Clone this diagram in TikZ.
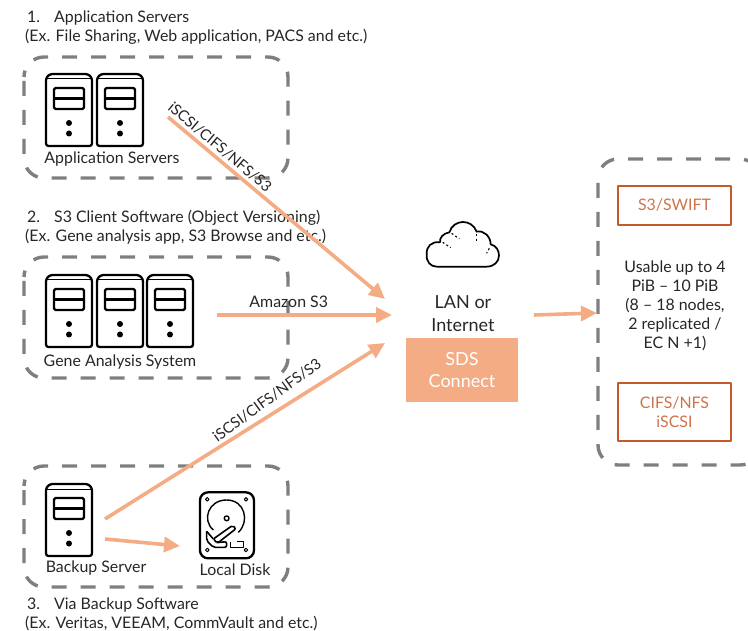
\documentclass[tikz,border=0pt]{standalone}
\usepackage{fontspec}
\setmainfont{Lato}
\usetikzlibrary{arrows.meta,positioning}
\definecolor{peach}{HTML}{F4AC85}
\definecolor{rust}{HTML}{C55A2B}
\definecolor{dashgrey}{HTML}{7F7F7F}
\definecolor{inktext}{HTML}{262626}
\def\txt{\fontsize{15.9}{18.9}\selectfont}
\tikzset{groupbox/.style={draw=dashgrey,line width=3.4pt,rounded corners=20pt,dash pattern=on 15pt off 14pt,dash phase=-4pt}}
\tikzset{flow/.style={draw=peach,line width=3.6pt,-{Triangle[length=16pt,width=15pt]}}}
\tikzset{label/.style={text=inktext,font=\txt,inner sep=0pt}}
\tikzset{heading/.style={label,align=left,anchor=west}}
\tikzset{protobox/.style={draw=rust,line width=1.6pt,text=rust!85!white,font=\txt,align=center,minimum width=113pt,inner sep=0pt}}
\tikzset{serverbox/.pic={
  \draw[line width=2.3pt,rounded corners=2.5pt] (0,72) -- (0,4) -- (4,0) -- (42,0) -- (46,4) -- (46,72) -- cycle;
  \draw[line width=1pt] (0,5) -- (46,5);
  \draw[line width=2.3pt,rounded corners=1.5pt] (8,14) rectangle (38,35);
  \draw[line width=2.3pt] (8,24.5) -- (38,24.5);
  \fill (23,49) circle (3pt) (23,59.5) circle (3pt);
}}
\begin{document}
\begin{tikzpicture}[x=1pt,y=-1pt,line join=round]
  \clip (0,0) rectangle (748,631);
  % dashed groups
  \draw[groupbox] (24,57) rectangle (288,178);
  \draw[groupbox] (24,257) rectangle (288,378);
  \draw[groupbox] (24,466) rectangle (288,587);
  \draw[groupbox] (598,159) rectangle (760,465);
  % headings
  \node[heading] (appTitle) at (25,27.5) {\hspace*{2pt}1.\hspace{14pt}Application Servers\\(Ex. File Sharing, Web application, PACS and etc.)};
  \node[heading] (geneTitle) at (25,227) {\hspace*{2pt}2.\hspace{14pt}S3 Client Software (Object Versioning)\\(Ex. Gene analysis app, S3 Browse and etc.)};
  \node[heading] (backTitle) at (25,614) {\hspace*{2pt}3.\hspace{14pt}Via Backup Software\\(Ex. Veritas, VEEAM, CommVault and etc.)};
  % servers
  \pic at (46,74) {serverbox};
  \pic at (97,74) {serverbox};
  \pic at (46,275) {serverbox};
  \pic at (97,275) {serverbox};
  \pic at (147,275) {serverbox};
  \pic at (46,484) {serverbox};
  \node[label] (appName) at (112,159) {Application Servers};
  \node[label] (geneName) at (120,362) {Gene Analysis System};
  \node[label] (backName) at (96,568) {Backup Server};
  \node[label] (diskName) at (235,570) {Local Disk};
  % disk
  \begin{scope}[shift={(0,440)},x=.3333pt,y=-.3333pt]
    \draw[line width=2.3pt,rounded corners=8pt] (600,157) rectangle (762,355);
    \foreach \sx/\sy in {622/178,738/178,622/330,738/330}
      \draw[line width=1pt] (\sx,\sy) circle (1.8pt);
    \draw[line width=1.4pt] (715,277) .. controls (750,245) and (735,180) .. (680,180) .. controls (625,180) and (605,240) .. (640,270);
    \draw[line width=1.4pt] (680,235) circle (2.4pt);
    \draw[line width=1.6pt,rounded corners=2pt] (640,297) -- (698,256) -- (708,266) -- (652,310) -- cycle;
    \draw[line width=1.6pt,rounded corners=2pt] (620,274) -- (620,302) -- (640,322) -- (680,322) -- (680,305) -- (650,308);
    \draw[line width=1.6pt] (620,274) -- (640,297);
    \draw[line width=1.4pt] (692,305) -- (692,322) -- (730,322) -- (730,305) -- (712,305);
  \end{scope}
  % cloud
  \begin{scope}[shift={(420,215)},x=.3333pt,y=-.3333pt]
    \draw[line width=1.7pt] (50,155) -- (200,155) .. controls (222,155) and (237,140) .. (237,122)
      .. controls (237,105) and (228,92) .. (212,88) .. controls (212,65) and (192,45) .. (170,50)
      .. controls (155,10) and (100,12) .. (88,52) .. controls (70,55) and (58,68) .. (60,82)
      .. controls (35,78) and (18,95) .. (20,118) .. controls (18,140) and (32,155) .. (50,155);
    \draw[line width=1.1pt,dash pattern=on 2pt off 2.5pt] (95,55) -- (118,72);
    \draw[line width=1.1pt,dash pattern=on 2pt off 2.5pt] (170,58) -- (170,78);
    \draw[line width=1.1pt,dash pattern=on 2pt off 2.5pt] (68,82) -- (92,98);
    \draw[line width=1.1pt,dash pattern=on 2pt off 2.5pt] (208,100) -- (200,115);
  \end{scope}
  % middle
  \node[label,font=\fontsize{18}{23}\selectfont,align=center] (lan) at (463,313.5) {LAN or\\Internet};
  \node[fill=peach,text=white,font=\fontsize{18}{22}\selectfont,align=center,minimum width=112pt,minimum height=64pt,inner sep=0pt] (sds) at (462,370) {SDS\\Connect};
  % storage
  \node[protobox,minimum height=39pt] (swift) at (674.5,205.5) {S3/SWIFT};
  \node[label,align=center] (usable) at (675,306) {Usable up to 4\\PiB -- 10 PiB\\(8 -- 18 nodes,\\2 replicated /\\EC N +1)};
  \node[protobox,minimum height=58pt] (cifs) at (674.5,412) {CIFS/NFS\\iSCSI};
  % connector ends
  \coordinate (appOut) at (168,117);
  \coordinate (geneOut) at (217,315);
  \coordinate (backOut) at (105,519);
  \coordinate (backDisk) at (105,539);
  \coordinate (diskIn) at (180,546);
  \coordinate (lanIn1) at (385,299);
  \coordinate (lanIn2) at (392,315);
  \coordinate (lanIn3) at (385,343);
  \coordinate (lanOut) at (534,315);
  \coordinate (storeIn) at (597,313);
  \draw[flow] (appOut) -- (lanIn1);
  \draw[flow] (geneOut) -- node[label,pos=.41,above=6pt]{Amazon S3} (lanIn2);
  \draw[flow] (backOut) -- (lanIn3);
  \draw[flow] (backDisk) -- (diskIn);
  \draw[flow] (lanOut) -- (storeIn);
  \node[label,font=\fontsize{15}{18}\selectfont,rotate=-40] (appProto) at (220,147) {iSCSI/CIFS/NFS/S3};
  \node[label,font=\fontsize{15}{18}\selectfont,rotate=36] (backProto) at (267,400) {iSCSI/CIFS/NFS/S3};
\end{tikzpicture}
\end{document}
